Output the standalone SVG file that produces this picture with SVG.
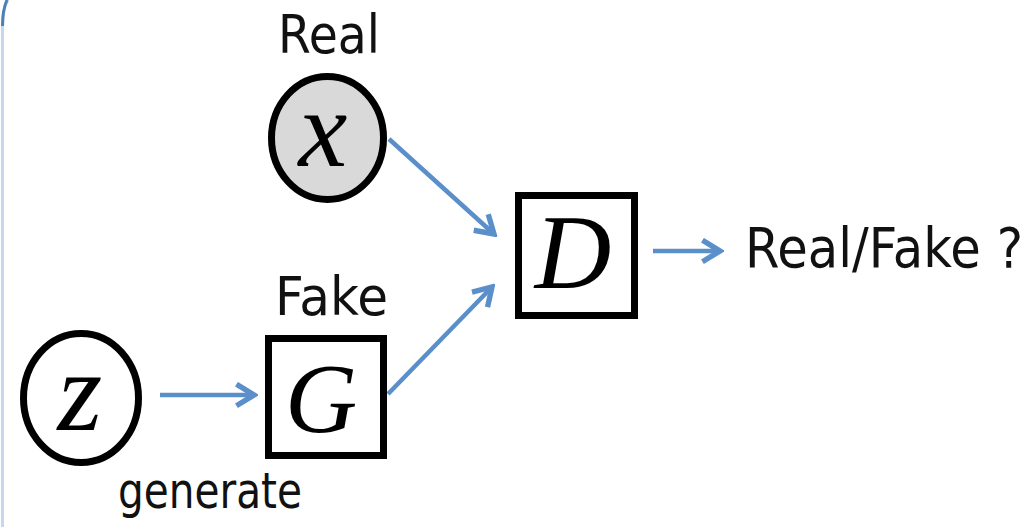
<svg xmlns="http://www.w3.org/2000/svg" width="1036" height="527" viewBox="0 0 1036 527">
<style>
.lbl{font-family:"DejaVu Sans","Liberation Sans",sans-serif;fill:#111;}
.var{font-family:"Liberation Serif","Times New Roman",serif;font-style:italic;fill:#000;}
.node{stroke:#000;stroke-width:7;}
.conn{stroke:#5b8fc9;stroke-width:4.5;fill:none;marker-end:url(#ah);}
</style>
<defs>
<marker id="ah" viewBox="0 0 10 10" refX="8.5" refY="5" markerWidth="6" markerHeight="6" orient="auto" markerUnits="strokeWidth">
<path d="M2,1 L8.5,5 L2,9" fill="none" stroke="#5b8fc9" stroke-width="2" stroke-linejoin="miter"/>
</marker>
</defs>
<rect width="1036" height="527" fill="#fff"/>
<g id="frame">
<path d="M2.5,527 L2.5,28 Q2.5,8 8,0" fill="none" stroke="#c6d8ec" stroke-width="3"/>
<path d="M2.5,26 Q2.5,10 7,0" fill="none" stroke="#4f7fb8" stroke-width="3"/>
</g>
<g id="connectors">
<line class="conn" x1="389" y1="139" x2="494" y2="234"/>
<line class="conn" x1="388" y1="394" x2="492" y2="287"/>
<line class="conn" x1="160" y1="395" x2="254" y2="395"/>
<line class="conn" x1="653" y1="251" x2="720" y2="251"/>
</g>
<g id="node-x">
<text class="lbl" x="278" y="53" font-size="54" textLength="102" lengthAdjust="spacingAndGlyphs">Real</text>
<ellipse class="node" cx="327.5" cy="138" rx="56" ry="61.5" fill="#d9d9d9"/>
<text class="var" x="323" y="166" font-size="110" text-anchor="middle">x</text>
</g>
<g id="node-z">
<ellipse class="node" cx="81" cy="398" rx="57.5" ry="64.5" fill="#fff"/>
<text class="var" x="80" y="430" font-size="115" text-anchor="middle">z</text>
</g>
<g id="node-G">
<text class="lbl" x="275" y="315" font-size="54" textLength="113" lengthAdjust="spacingAndGlyphs">Fake</text>
<rect class="node" x="268.5" y="338.5" width="115" height="117" fill="#fff"/>
<text class="var" x="321" y="432" font-size="100" text-anchor="middle">G</text>
<text class="lbl" x="118" y="508" font-size="50" textLength="184" lengthAdjust="spacingAndGlyphs">generate</text>
</g>
<g id="node-D">
<rect class="node" x="518.5" y="195.5" width="116" height="120" fill="#fff"/>
<text class="var" x="573" y="288" font-size="106" text-anchor="middle">D</text>
</g>
<g id="output">
<text class="lbl" x="745" y="267" font-size="56" textLength="278" lengthAdjust="spacingAndGlyphs">Real/Fake ?</text>
</g>
</svg>
